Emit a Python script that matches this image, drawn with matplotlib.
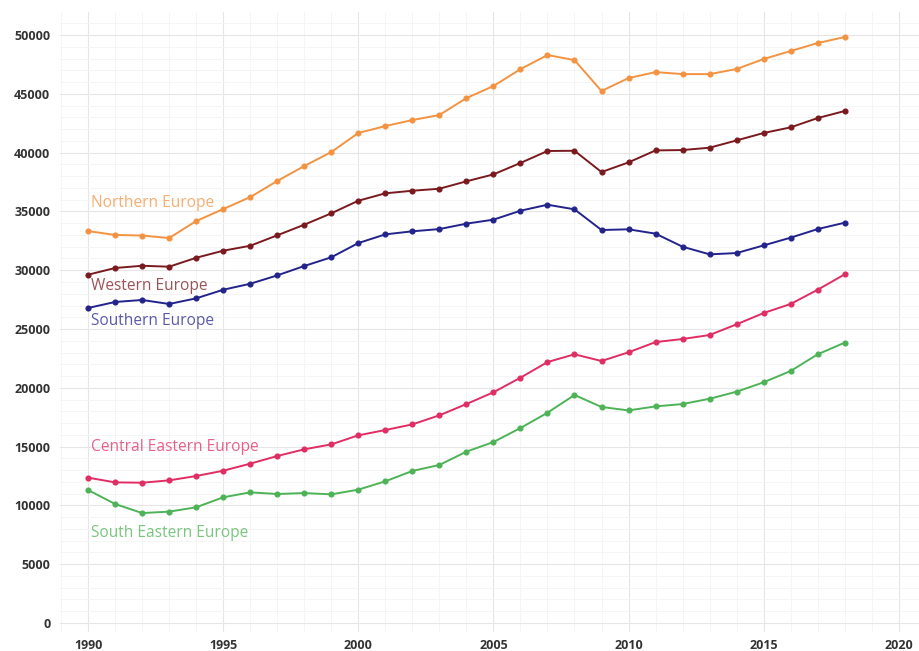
import numpy as np
import matplotlib
matplotlib.use("Agg")
import matplotlib.pyplot as plt
from matplotlib.ticker import MultipleLocator

# --- DATA ---
years = list(range(1990, 2019))

northern = [33330, 33000, 32950, 32740, 34180, 35200, 36220, 37590, 38860, 40050,
            41670, 42260, 42770, 43200, 44640, 45660, 47100, 48300, 47870, 45240,
            46340, 46850, 46680, 46680, 47110, 47960, 48640, 49320, 49830]
western = [29620, 30190, 30380, 30300, 31060, 31660, 32080, 32970, 33870, 34840,
           35910, 36540, 36760, 36930, 37560, 38150, 39120, 40140, 40160, 38350,
           39170, 40190, 40220, 40420, 41040, 41670, 42150, 42940, 43540]
southern = [26790, 27300, 27470, 27130, 27610, 28340, 28850, 29560, 30360, 31100,
            32310, 33050, 33310, 33500, 33960, 34300, 35060, 35570, 35180, 33420,
            33480, 33110, 32000, 31350, 31460, 32110, 32770, 33500, 34040]
central_eastern = [12360, 11960, 11930, 12130, 12500, 12950, 13550, 14200, 14770, 15190,
                   15960, 16410, 16890, 17660, 18620, 19620, 20860, 22190, 22850, 22280,
                   23020, 23890, 24150, 24490, 25400, 26360, 27130, 28340, 29650]
south_eastern = [11310, 10120, 9350, 9470, 9840, 10690, 11110, 10970, 11050, 10940,
                 11340, 12050, 12930, 13440, 14570, 15390, 16580, 17880, 19390, 18370,
                 18080, 18420, 18620, 19070, 19670, 20470, 21430, 22850, 23840]

series_names = ["Northern Europe", "Western Europe", "Southern Europe",
                "Central Eastern Europe", "South Eastern Europe"]
series_values = [northern, western, southern, central_eastern, south_eastern]
label_y = [35700, 28650, 25650, 14950, 7650]

COLORS = ["#F39342", "#7A1A1F", "#23238C", "#E02D63", "#4DB356"]

plt.rcParams['font.family'] = ['Open Sans', 'DejaVu Sans']

fig = plt.figure(figsize=(9.19, 6.51), dpi=100)
ax = fig.add_axes([60 / 919, 19 / 651, 1 - 60 / 919, 620 / 651])

for name, vals, ly, col in zip(series_names, series_values, label_y, COLORS):
    ax.plot(years, vals, color=col, lw=1.4, marker='o', ms=3.4, zorder=3)
    ax.text(1990.1, ly, name, color=col, alpha=0.75, fontsize=11.2,
            ha='left', va='center', zorder=4)

ax.set_xlim(1988.96, 2020.75)
ax.set_ylim(-765, 51960)
ax.xaxis.set_major_locator(MultipleLocator(5))
ax.xaxis.set_minor_locator(MultipleLocator(1))
ax.yaxis.set_major_locator(MultipleLocator(5000))
ax.yaxis.set_minor_locator(MultipleLocator(1000))

ax.grid(True, which='major', color='#e6e6e6', lw=0.8)
ax.grid(True, which='minor', color='#f4f4f4', lw=0.6)
ax.set_axisbelow(True)

for s in ax.spines.values():
    s.set_visible(False)
ax.tick_params(which='both', length=0)
ax.tick_params(axis='x', pad=5)
ax.tick_params(axis='y', pad=7)
for lab in ax.get_xticklabels() + ax.get_yticklabels():
    lab.set_fontweight('bold')
    lab.set_fontsize(9)
    lab.set_color('#333333')

fig.savefig("out.png", dpi=100, facecolor='white')
